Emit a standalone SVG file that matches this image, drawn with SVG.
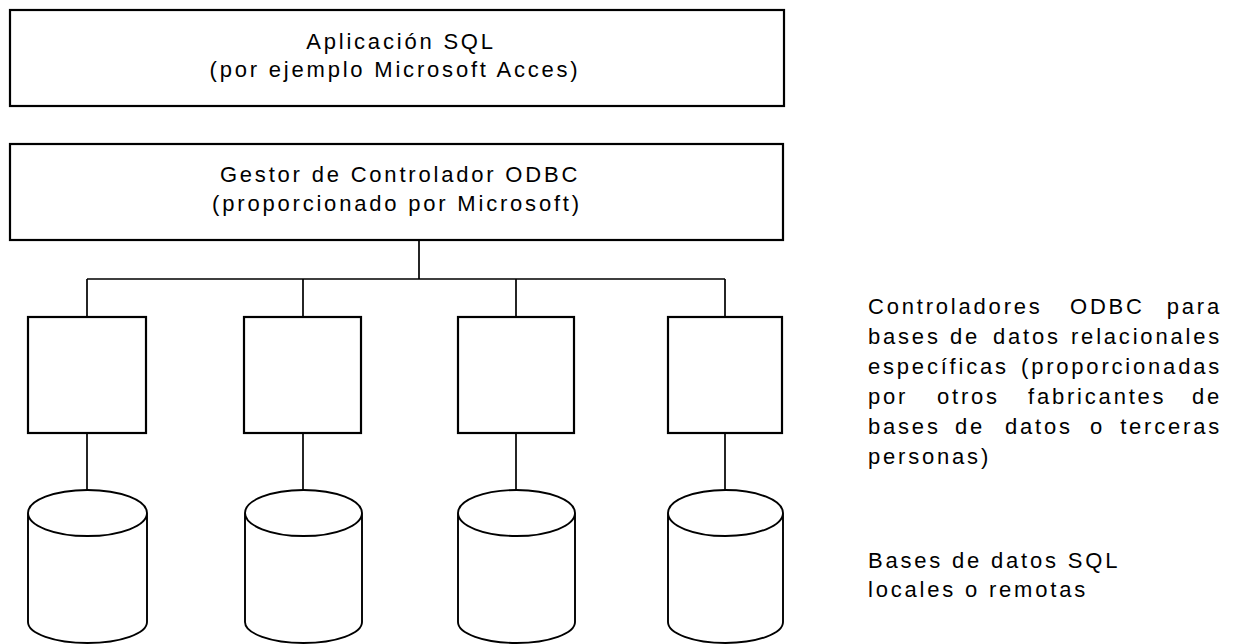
<svg xmlns="http://www.w3.org/2000/svg" width="1238" height="644" viewBox="0 0 1238 644">
<style>
.box{fill:#fff;stroke:#000;stroke-width:2.2}
.cyl{fill:#fff;stroke:#000;stroke-width:1.9}
.con{fill:none;stroke:#000;stroke-width:1.7}
text{font-family:"Liberation Sans",Arial,sans-serif;font-size:22px;fill:#000;letter-spacing:2.8px}
.c{text-anchor:middle}
.e{text-anchor:end}
</style>
<rect width="1238" height="644" fill="#fff"/>
<g id="connectors">
<path class="con" d="M419 240V279M87 279H725M87 279V317M303 279V317M516 279V317M725 279V317"/>
<path class="con" d="M87 433V490M303 433V490M516 433V490M725 433V490"/>
</g>
<g id="app">
<rect class="box" x="10" y="10" width="774" height="96"/>
<text class="c" x="401" y="49">Aplicación SQL</text>
<text class="c" x="395" y="77">(por ejemplo Microsoft Acces)</text>
</g>
<g id="manager">
<rect class="box" x="10" y="144" width="773" height="96"/>
<text class="c" x="400" y="182">Gestor de Controlador ODBC</text>
<text class="c" x="397" y="211">(proporcionado por Microsoft)</text>
</g>
<g id="driver1"><rect class="box" x="28" y="317" width="118" height="116"/></g>
<g id="driver2"><rect class="box" x="244" y="317" width="117" height="116"/></g>
<g id="driver3"><rect class="box" x="458" y="317" width="116" height="116"/></g>
<g id="driver4"><rect class="box" x="668" y="317" width="114" height="116"/></g>
<g id="db1"><path class="cyl" d="M28 513A59.5 23 0 0 1 147 513V622A59.5 21 0 0 1 28 622Z M28 513A59.5 23 0 0 0 147 513"/></g>
<g id="db2"><path class="cyl" d="M245 513A58.5 23 0 0 1 362 513V622A58.5 21 0 0 1 245 622Z M245 513A58.5 23 0 0 0 362 513"/></g>
<g id="db3"><path class="cyl" d="M458 513A58.5 23 0 0 1 575 513V622A58.5 21 0 0 1 458 622Z M458 513A58.5 23 0 0 0 575 513"/></g>
<g id="db4"><path class="cyl" d="M668 513A57.5 23 0 0 1 783 513V622A57.5 21 0 0 1 668 622Z M668 513A57.5 23 0 0 0 783 513"/></g>
<g id="label-drivers">
<text y="314"><tspan x="868">Controladores</tspan><tspan x="1070">ODBC</tspan><tspan x="1222" text-anchor="end">para</tspan></text>
<text y="344"><tspan x="868">bases</tspan><tspan x="950">de</tspan><tspan x="993">datos</tspan><tspan x="1222" text-anchor="end">relacionales</tspan></text>
<text y="374"><tspan x="868">específicas</tspan><tspan x="1222" text-anchor="end">(proporcionadas</tspan></text>
<text y="404"><tspan x="868">por</tspan><tspan x="937">otros</tspan><tspan x="1028">fabricantes</tspan><tspan x="1222" text-anchor="end">de</tspan></text>
<text y="434"><tspan x="868">bases</tspan><tspan x="955">de</tspan><tspan x="1005">datos</tspan><tspan x="1090">o</tspan><tspan x="1222" text-anchor="end">terceras</tspan></text>
<text x="868" y="464">personas)</text>
</g>
<g id="label-databases">
<text x="868" y="568">Bases de datos SQL</text>
<text x="868" y="597">locales o remotas</text>
</g>
</svg>
